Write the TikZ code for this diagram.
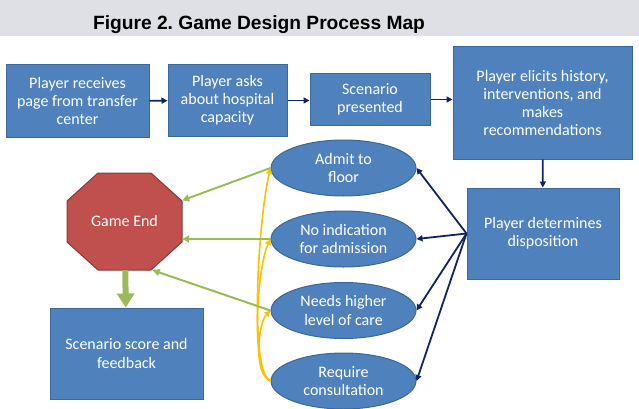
\documentclass[tikz,border=0pt]{standalone}
\usepackage{fontspec}
\setmainfont{Carlito}
\newfontfamily\titlefont{Liberation Sans}
\usepackage{tikz}
\usetikzlibrary{shapes,arrows.meta}
\usetikzlibrary{positioning}
\usepackage{xcolor}
\definecolor{boxblue}{HTML}{4F81BD}
\definecolor{boxedge}{HTML}{3A679C}
\definecolor{stopred}{HTML}{C0504D}
\definecolor{stopedge}{HTML}{8C3836}
\definecolor{leafgreen}{HTML}{9BBB59}
\definecolor{gold}{HTML}{FFC000}
\definecolor{navy}{HTML}{0F2461}
\definecolor{bandgray}{HTML}{DFE0E5}

\begin{document}
\begin{tikzpicture}[x=1pt,y=-1pt,
  every node/.style={font=\fontsize{16}{18.2}\selectfont,align=center},
  procbox/.style={draw=boxedge,fill=boxblue,text=white,line width=1pt,inner sep=2pt},
  choice/.style={ellipse,draw=boxedge,fill=boxblue,text=white,line width=1pt,
    minimum width=145pt,minimum height=56pt,inner sep=0pt},
  flow/.style={draw=navy,line width=1.8pt,-{Triangle[length=6pt,width=6pt]}},
  toend/.style={draw=leafgreen,line width=2pt,-{Triangle[length=7pt,width=7pt]}},
  retry/.style={draw=gold,line width=1.6pt,-{Triangle[length=6pt,width=6pt]}},
  bigarrow/.style={draw=leafgreen,line width=6pt,-{Triangle[length=14pt,width=17pt]}}]

  \useasboundingbox (0,0) rectangle (639,409);

  % title
  \fill[bandgray] (0,0) rectangle (639,36);
  \node[anchor=base,font=\titlefont\bfseries\fontsize{19.2}{22}\selectfont] (title)
    at (259,30) {Figure 2.\ Game Design Process Map};

  % top row
  \node[procbox,minimum width=143pt,minimum height=72pt] (page) at (77.5,101)
    {Player receives\\page from transfer\\center};
  \node[procbox,minimum width=119pt,minimum height=71pt] (capacity) at (227.5,100.5)
    {Player asks\\about hospital\\capacity};
  \node[procbox,minimum width=120pt,minimum height=51pt] (scenario) at (370,99.5)
    {Scenario\\presented};
  \node[procbox,minimum width=179pt,minimum height=112pt] (elicit) at (542.5,103)
    {Player elicits history,\\interventions, and\\makes\\recommendations};
  \node[procbox,minimum width=152pt,minimum height=91pt] (disposition) at (543,233.5)
    {Player determines\\disposition};

  % dispositions
  \node[choice] (admit) at (343.5,168) {Admit to\\floor};
  \node[choice] (noind) at (343.5,239) {No indication\\for admission};
  \node[choice] (higher) at (343.5,310.5) {Needs higher\\level of care};
  \node[choice] (consult) at (343.5,381) {Require\\consultation};

  % end (octagon drawn round the node)
  \filldraw[fill=stopred,draw=stopedge,line width=1pt]
    (98,173) -- (151,173) -- (182,201) -- (182,242) -- (151,270)
    -- (98,270) -- (67,242) -- (67,201) -- cycle;
  \node[text=white,minimum width=115pt,minimum height=97pt,inner sep=0pt]
    (gameend) at (124.5,221.5) {Game End};
  \node[procbox,minimum width=153pt,minimum height=91pt] (score) at (126.5,353.5)
    {Scenario score and\\feedback};

  % flow
  \draw[flow] (page) -- (capacity);
  \draw[flow] (capacity) -- (capacity -| scenario.west);
  \draw[flow] (scenario) -- (scenario -| elicit.west);
  \draw[flow] (elicit) -- (disposition);
  \draw[flow] (disposition.west) -- (admit.east);
  \draw[flow] (disposition.west) -- (noind.east);
  \draw[flow] (disposition.west) -- (higher.east);
  \draw[flow] (disposition.west) -- (consult.east);

  % consultation loops back
  \draw[retry] (consult.west) .. controls +(-22,-8) and +(-12,50) .. (admit.west);
  \draw[retry] (consult.west) .. controls +(-20,-8) and +(-14,30) .. (noind.west);
  \draw[retry] (consult.west) .. controls +(-18,-8) and +(-12,12) .. (higher.west);

  % to game end
  \draw[toend] (admit.west) -- (gameend);
  \draw[toend] (noind.west) -- (noind.west -| gameend.east);
  \draw[toend] (higher.west) -- (gameend.-60);
  \draw[bigarrow] (gameend) -- (score);

\end{tikzpicture}
\end{document}
